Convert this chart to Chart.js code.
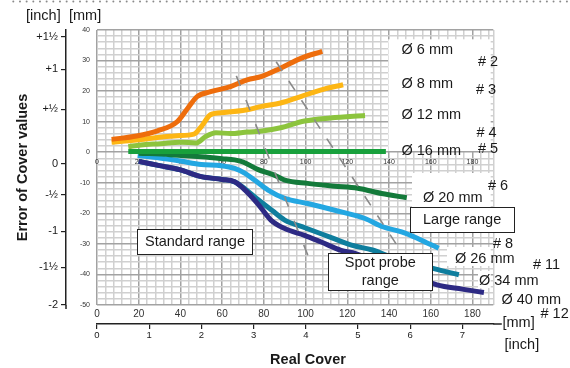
<!DOCTYPE html>
<html><head><meta charset="utf-8">
<script src="https://cdn.jsdelivr.net/npm/chart.js@4/dist/chart.umd.min.js"></script>
<style>html,body{margin:0;padding:0;background:#fff;}canvas{display:block;}</style>
</head><body>
<canvas id="c" width="570" height="368"></canvas>
<script>
// ---------------- data ----------------
const probeNames   = ['Ø 6 mm','Ø 8 mm','Ø 12 mm','Ø 16 mm','Ø 20 mm','Ø 26 mm','Ø 34 mm','Ø 40 mm'];
const probeNumbers = ['# 2','# 3','# 4','# 5','# 6','# 8','# 11','# 12'];

// Real cover [mm] / error of cover value [mm]
const cover6  = [7, 19, 29, 38.5, 43.5, 48, 54.5, 64, 72, 79, 88, 98, 108];
const error6  = [4.2, 5.3, 7.0, 10.0, 14.4, 18.2, 19.8, 21.5, 23.7, 24.8, 27.5, 30.8, 33.0];
const cover8  = [7, 19, 29, 38.5, 46.5, 50, 54.5, 61, 72, 79, 88, 98, 108, 118];
const error8  = [3.3, 4.0, 4.8, 5.4, 5.9, 8.4, 12.3, 13.0, 13.9, 15.0, 16.1, 18.3, 20.5, 22.1];
const cover12 = [15, 21, 30.5, 40, 47.5, 52, 57, 64, 72, 80, 88, 99.5, 112, 128.5];
const error12 = [1.8, 2.4, 2.8, 3.3, 3.0, 5.1, 6.4, 6.1, 6.6, 7.0, 8.0, 10.2, 11.2, 12.0];
const cover16 = [15, 138.5];
const error16 = [0.2, 0.2];
const cover20 = [20, 35, 50, 60, 66, 70, 77, 85, 90, 101, 114, 125, 136.5, 148.5];
const error20 = [-0.3, -0.8, -1.5, -2.1, -2.5, -3.2, -5.6, -7.5, -9.1, -10.2, -11.1, -11.8, -13.5, -14.9];
const cover26 = [19.5, 30, 40, 50, 59.5, 66, 71, 75.5, 82, 90, 101, 114, 128.5, 137, 146, 153, 158, 163.8];
const error26 = [-1.1, -1.9, -2.9, -4.0, -4.4, -5.3, -6.9, -9.1, -12.4, -15.1, -16.8, -19.0, -21.7, -24.4, -26.1, -28.0, -29.6, -31.4];
const cover34 = [20, 30, 40, 50, 60, 66, 71, 77, 84, 90, 100, 113, 122, 132, 140, 150, 162, 173.5];
const error34 = [-3.0, -4.4, -5.8, -8.0, -8.9, -9.7, -12.0, -15.4, -19.1, -22.2, -24.8, -28.1, -30.4, -32.0, -34.0, -36.0, -38.2, -40.1];
const cover40 = [20, 30, 40, 50, 60, 66, 71, 77, 83.5, 90, 99.5, 107.5, 117, 124, 140, 152, 163, 175, 185.5];
const error40 = [-3.0, -4.4, -5.8, -8.0, -8.9, -9.7, -12.4, -16.8, -22.3, -25.0, -27.2, -29.4, -32.1, -33.2, -37.4, -40.6, -43.4, -44.8, -45.9];

// dashed range boundaries
const boundaryAx = [66.8, 103.0];
const boundaryAy = [25.0, -37.0];
const boundaryBx = [85.9, 143.7];
const boundaryBy = [29.6, -30.3];

// tick labels
const mmXLabels   = [0, 20, 40, 60, 80, 100, 120, 140, 160, 180];
const mmYLabels   = [-50, -40, -30, -20, -10, 0, 10, 20, 30, 40];
const inchXLabels = [0, 1, 2, 3, 4, 5, 6, 7];
const inchYLabels = ['+1½', '+1', '+½', '0', '-½', '-1', '-1½', '-2'];
const inchYAt     = [37.8, 27.2, 14.05, -3.8, -13.95, -25.9, -37.6, -50];
const rangeNames  = ['Standard range', 'Large range', 'Spot probe', 'range'];

// ---------------- styling ----------------
const FONT = '"Liberation Sans", Arial, Helvetica, sans-serif';
const INK = '#1a1a1a';
const MAJOR = '#a2a2a2', MINOR = '#d0d0d0';
const colors = ['#EE6D0C', '#FDB614', '#8CC43E', '#18A03C', '#137A3A', '#23A7E2', '#0F7E9E', '#2D2A84'];
const drawOrder = [1, 2, 3, 4, 5, 6, 8, 7];   // lower = drawn on top

const seriesX = [cover6, cover8, cover12, cover16, cover20, cover26, cover34, cover40];
const seriesY = [error6, error8, error12, error16, error20, error26, error34, error40];

const datasets = seriesX.map((xs, i) => ({
  label: probeNames[i],
  data: xs.map((x, j) => ({ x: x, y: seriesY[i][j] })),
  borderColor: colors[i],
  borderWidth: 5,
  pointRadius: 0,
  fill: false,
  cubicInterpolationMode: 'monotone',
  order: drawOrder[i],
  xAxisID: 'x', yAxisID: 'y'
}));
[[boundaryAx, boundaryAy, [11, 15]], [boundaryBx, boundaryBy, [11, 12]]].forEach(([bx, by, dash]) => {
  datasets.push({
    label: 'boundary',
    data: bx.map((x, j) => ({ x: x, y: by[j] })),
    borderColor: '#8a8a8a', borderWidth: 1.6, borderDash: dash,
    pointRadius: 0, fill: false, order: 0, xAxisID: 'x', yAxisID: 'y'
  });
});

const gridX = []; for (let v = 0; v <= 188; v += 4) gridX.push(v); gridX.push(190);
const gridY = []; for (let v = -50; v <= 40; v += 2) gridY.push(v);

// white areas behind the probe labels (pixels)
const whitePatches = [[388.3, 39.3, 490.7, 151], [412, 173, 490.7, 207.3], [447, 247, 490.7, 266], [478, 271, 490.7, 288]];

const overlay = {
  id: 'overlay',
  beforeDatasetsDraw(chart) {
    const ctx = chart.ctx;
    ctx.save();
    ctx.fillStyle = '#fff';
    whitePatches.forEach(([x0, y0, x1, y1]) => ctx.fillRect(x0, y0, x1 - x0, y1 - y0));
    ctx.restore();
  },
  afterDatasetsDraw(chart) {
    const ctx = chart.ctx;
    ctx.save();
    // axis line extensions (as in the original drawing)
    ctx.strokeStyle = '#222';
    ctx.lineWidth = 1.5;
    const xi = chart.scales.xInch, yi = chart.scales.yInch;
    ctx.beginPath();
    ctx.moveTo(xi.right, Math.round(xi.top)); ctx.lineTo(xi.right + 8.5, Math.round(xi.top));
    ctx.moveTo(Math.round(yi.right), yi.bottom); ctx.lineTo(Math.round(yi.right), yi.bottom + 4);
    ctx.stroke();
    // range boxes
    const boxes = [
      [137.3, 229, 252.7, 254.3, [rangeNames[0]]],
      [410, 207.3, 514.3, 232.3, [rangeNames[1]]],
      [328.3, 253.3, 432.3, 290.7, [rangeNames[2], rangeNames[3]]]
    ];
    ctx.font = '14.5px ' + FONT;
    ctx.textAlign = 'center';
    ctx.textBaseline = 'middle';
    boxes.forEach(([x0, y0, x1, y1, lines]) => {
      ctx.fillStyle = '#fff';
      ctx.fillRect(x0, y0, x1 - x0, y1 - y0);
      ctx.strokeStyle = '#222';
      ctx.lineWidth = 1;
      ctx.strokeRect(Math.round(x0) + 0.5, Math.round(y0) + 0.5, Math.round(x1 - x0), Math.round(y1 - y0));
      ctx.fillStyle = INK;
      const cx = (x0 + x1) / 2, cy = (y0 + y1) / 2;
      const lh = 18.5;
      lines.forEach((t, k) => ctx.fillText(t, cx, cy + (k - (lines.length - 1) / 2) * lh));
    });
    // probe labels
    ctx.textAlign = 'left';
    const nameAt = [[401.5, 50], [401.5, 83.5], [401.5, 115], [401.5, 150.5], [423, 198], [455, 258.5], [479, 280.5], [501.5, 299.5]];
    const numAt  = [[478, 61.5], [476, 89.5], [476.5, 132.5], [478, 149], [488, 186], [493, 244], [533, 265], [540.5, 313.5]];
    probeNames.forEach((t, i) => ctx.fillText(t, nameAt[i][0], nameAt[i][1]));
    probeNumbers.forEach((t, i) => ctx.fillText(t, numAt[i][0], numAt[i][1]));
    // unit captions
    ctx.fillText('[mm]', 502.5, 323);
    ctx.fillText('[inch]', 504.5, 345);
    ctx.fillText('[inch]', 26, 15.5);
    ctx.fillText('[mm]', 69, 15.5);
    // x title
    ctx.font = 'bold 14.5px ' + FONT;
    ctx.textAlign = 'center';
    ctx.fillText('Real Cover', 308, 360);
    // dotted rule at the top
    ctx.fillStyle = '#8a8a8a';
    for (let x = 13.3; x < 570; x += 6.67) {
      ctx.beginPath(); ctx.arc(x, 1.5, 1, 0, Math.PI * 2); ctx.fill();
    }
    ctx.restore();
  }
};

new Chart(document.getElementById('c'), {
  type: 'line',
  data: { datasets: datasets },
  options: {
    responsive: false,
    animation: false,
    devicePixelRatio: 1,
    layout: { padding: { left: 0, right: 76.7, top: 30, bottom: 0 } },
    plugins: { legend: { display: false }, tooltip: { enabled: false } },
    scales: {
      x: {
        type: 'linear', position: 'bottom', weight: 0, min: 0, max: 190,
        afterBuildTicks: s => { s.ticks = gridX.map(v => ({ value: v })); },
        afterFit: s => { s.height = 19; },
        grid: { color: c => (c.tick && c.tick.value % 20 === 0) ? MAJOR : MINOR, lineWidth: 1.5, drawTicks: false },
        border: { display: false },
        ticks: { autoSkip: false, maxRotation: 0, padding: 3, color: '#333', font: { family: FONT, size: 10 },
                 callback: v => mmXLabels.includes(v) ? String(v) : '' }
      },
      xInch: {
        type: 'linear', position: 'bottom', weight: 1, min: 0, max: 7.593,
        afterBuildTicks: s => { s.ticks = inchXLabels.map(v => ({ value: v })); },
        afterFit: s => { s.height = 44; },
        grid: { drawOnChartArea: false, drawTicks: true, tickLength: 5, color: '#222', lineWidth: 1.2 },
        border: { display: true, color: '#222', width: 1.5 },
        ticks: { autoSkip: false, maxRotation: 0, padding: 1, color: INK, font: { family: FONT, size: 9.5 } }
      },
      xIn: {
        type: 'linear', position: { y: 0 }, min: 0, max: 190,
        afterBuildTicks: s => { s.ticks = mmXLabels.map(v => ({ value: v })); },
        grid: { display: false, drawTicks: false },
        border: { display: false },
        ticks: { autoSkip: false, maxRotation: 0, padding: 6, color: '#333', font: { family: FONT, size: 7 } }
      },
      y: {
        type: 'linear', position: 'left', weight: 0, min: -50, max: 40,
        afterBuildTicks: s => { s.ticks = gridY.map(v => ({ value: v })); },
        afterFit: s => { s.width = 31; },
        grid: { color: c => (c.tick && c.tick.value % 10 === 0) ? MAJOR : MINOR, lineWidth: 1.5, drawTicks: false },
        border: { display: false },
        ticks: { autoSkip: false, padding: 7, color: '#333', font: { family: FONT, size: 7 },
                 callback: v => mmYLabels.includes(v) ? String(v) : '' }
      },
      yInch: {
        type: 'linear', position: 'left', weight: 1, min: -50, max: 40,
        afterBuildTicks: s => { s.ticks = inchYAt.map(v => ({ value: v })); },
        afterFit: s => { s.width = 66; },
        grid: { drawOnChartArea: false, drawTicks: true, tickLength: 5, color: '#222', lineWidth: 1.2 },
        border: { display: true, color: '#222', width: 1.5 },
        ticks: { autoSkip: false, padding: 3, color: INK, font: { family: FONT, size: 11 },
                 callback: v => inchYLabels[inchYAt.indexOf(v)] },
        title: { display: true, text: 'Error of Cover values', color: INK,
                 font: { family: FONT, size: 14.5, weight: 'bold' }, padding: { top: 14.5, bottom: 0 } }
      }
    }
  },
  plugins: [overlay]
});
</script>
</body></html>
